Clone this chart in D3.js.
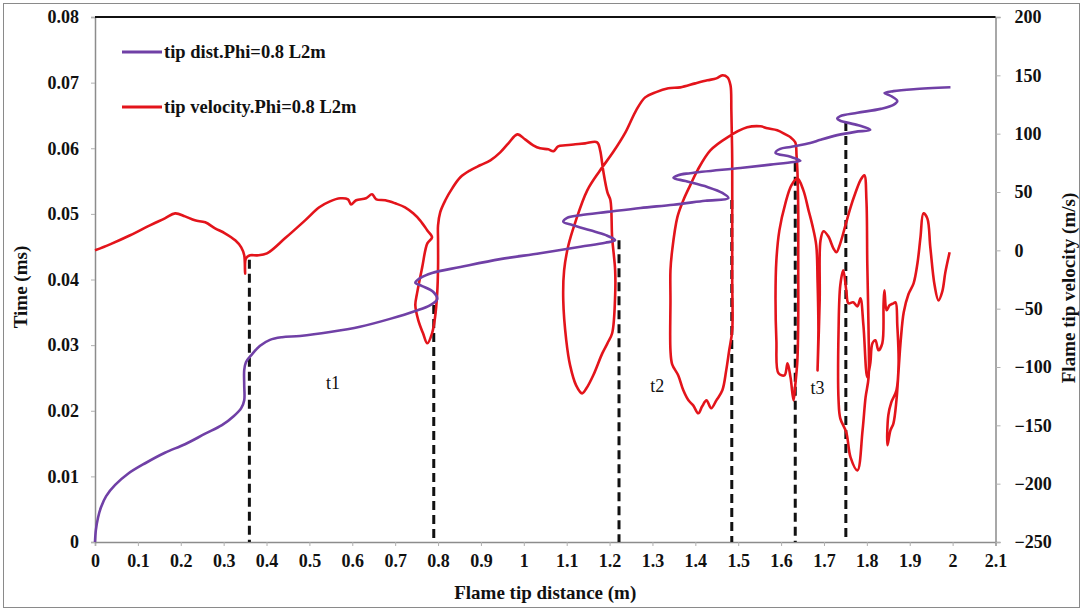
<!DOCTYPE html>
<html>
<head>
<meta charset="utf-8">
<script src="https://cdn.jsdelivr.net/npm/d3@7"></script>
<style>
  html, body { margin: 0; padding: 0; background: #fff; }
  svg { display: block; }
  text { font-family: "Liberation Serif", "Times New Roman", serif; }
</style>
</head>
<body>
<svg id="chart" width="1084" height="611"></svg>
<script>
// Flame tip position: distance (m) vs time (ms)
const tipDistX = [0,0.002,0.007,0.014,0.026,0.047,0.077,0.117,0.163,0.210,0.257,0.296,0.324,0.341,0.348,0.348,0.348,0.352,0.366,0.385,0.408,0.436,0.478,0.548,0.618,0.688,0.747,0.782,0.798,0.789,0.763,0.747,0.758,0.786,0.852,0.945,1.038,1.132,1.190,1.213,1.190,1.155,1.113,1.092,1.101,1.132,1.195,1.272,1.349,1.423,1.477,1.463,1.428,1.377,1.349,1.360,1.388,1.505,1.575,1.629,1.645,1.622,1.587,1.598,1.622,1.668,1.692,1.731,1.773,1.808,1.780,1.738,1.731,1.738,1.778,1.832,1.862,1.871,1.855,1.841,1.862,1.909,1.995];
const tipDistT = [0,0.0018,0.0037,0.0053,0.0070,0.0087,0.0104,0.0120,0.0136,0.0149,0.0165,0.0178,0.0192,0.0204,0.0216,0.0239,0.0262,0.0274,0.0286,0.0299,0.0308,0.0312,0.0314,0.0320,0.0328,0.0340,0.0352,0.0361,0.0370,0.0381,0.0390,0.0395,0.0402,0.0410,0.0419,0.0431,0.0440,0.0450,0.0456,0.0460,0.0468,0.0475,0.0483,0.0488,0.0494,0.0498,0.0503,0.0509,0.0514,0.0520,0.0524,0.0532,0.0541,0.0550,0.0555,0.0559,0.0562,0.0570,0.0575,0.0579,0.0581,0.0587,0.0593,0.0599,0.0602,0.0608,0.0613,0.0620,0.0625,0.0628,0.0635,0.0642,0.0645,0.0649,0.0654,0.0660,0.0666,0.0672,0.0680,0.0684,0.0687,0.0690,0.0693];

// Flame tip velocity (m/s) along the tip distance (m)
const tipVelX = [0,0.035,0.082,0.128,0.163,0.187,0.210,0.233,0.257,0.280,0.303,0.327,0.341,0.348,0.350,0.352,0.362,0.378,0.401,0.443,0.490,0.523,0.548,0.572,0.590,0.597,0.609,0.632,0.646,0.656,0.677,0.700,0.723,0.742,0.758,0.775,0.786,
  0.775,0.763,0.751,0.747,0.754,0.765,0.775,0.786,0.793,0.798,0.800,0.800,0.800,0.805,0.817,0.833,0.852,0.875,0.898,0.922,0.945,0.964,0.985,1.003,1.022,1.038,1.057,1.069,1.080,1.097,1.120,1.143,1.171,
  1.178,1.185,1.195,1.202,1.206,1.213,1.213,1.206,1.195,1.183,1.162,1.146,1.136,1.122,1.108,1.099,1.092,1.094,1.104,1.120,1.148,1.178,1.208,1.237,1.262,1.283,1.307,1.337,1.365,1.400,1.428,1.449,1.463,
  1.475,1.482,1.484,1.486,1.486,1.486,1.486,1.479,1.472,1.463,1.449,1.437,1.426,1.416,1.407,1.395,1.384,1.372,1.360,1.346,1.342,1.342,1.342,1.346,1.358,1.372,1.388,1.405,1.435,1.475,1.521,1.552,1.568,1.591,1.610,1.622,1.633,1.636,
  1.638,1.640,1.640,1.640,1.638,1.633,1.629,1.622,1.615,1.608,1.594,1.589,1.587,1.589,1.596,1.610,1.624,1.638,1.652,1.664,1.673,1.682,1.685,1.687,1.685,1.690,1.692,1.699,1.710,1.722,1.729,1.738,1.750,1.762,1.773,1.785,1.794,
  1.799,1.801,1.804,1.804,1.797,1.790,1.778,1.762,1.752,1.738,1.734,1.734,1.738,1.745,1.752,1.757,1.768,1.778,1.785,1.792,1.801,1.808,1.813,1.820,1.827,1.836,1.839,1.841,1.846,1.853,1.862,1.867,1.871,1.874,1.869,1.857,1.850,1.848,
  1.855,1.862,1.869,1.874,1.879,1.886,1.897,1.909,1.918,1.925,1.932,1.941,1.948,1.958,1.967,1.976,1.983,1.993];
const tipVelV = [0,5.1,12.9,21.4,27.4,31.7,29.1,25.7,24.0,18.9,14.6,8.6,2.6,-4.3,-20.0,-6.9,-4.3,-4.3,-2.6,10.3,25.7,36.9,42.0,44.6,43.7,39.4,42.9,44.6,48.0,43.7,42.9,40.3,36.9,31.7,25.7,17.1,11.1,
  6.0,-14.6,-36.9,-47.1,-60.0,-71.1,-79.7,-71.1,-57.4,-36.9,-14.6,8.6,21.4,32.6,42.9,53.1,62.6,68.6,72.9,77.1,84.0,91.7,99.4,95.1,90.0,87.4,86.6,84.9,89.1,90.0,90.9,91.7,92.6,
  85.7,68.6,49.7,42.9,11.1,-17.1,-38.6,-71.1,-79.7,-88.3,-107.1,-118.3,-122.6,-115.7,-98.6,-77.1,-42.9,-17.1,4.3,24.0,51.4,68.6,84.0,101.1,120.0,131.1,135.4,138.9,139.7,143.1,145.7,147.4,150.0,
  148.3,141.4,120.0,77.1,25.7,-25.7,-68.6,-85.7,-102.9,-120.0,-128.6,-135.4,-128.6,-133.7,-139.7,-132.9,-128.6,-120.0,-107.1,-97.7,-85.7,-42.9,-17.1,0.0,28.3,42.9,55.7,68.6,85.7,96.9,105.4,106.3,104.6,102.9,99.4,96.9,92.6,81.4,
  68.6,34.3,-8.6,-60.0,-94.3,-115.7,-128.6,-108.9,-96.9,-107.1,-105.4,-77.1,-40.3,-8.6,17.1,40.3,55.7,61.7,51.4,34.3,21.4,4.3,-25.7,-68.6,-102.9,-42.9,8.6,16.3,12.0,1.7,-1.7,6.0,21.4,36.9,48.9,60.0,64.3,
  42.9,-11.1,-68.6,-108.9,-126.0,-154.3,-188.6,-177.4,-156.0,-144.0,-128.6,-68.6,-30.0,-17.1,-34.3,-45.4,-44.6,-48.0,-41.1,-64.3,-108.9,-96.9,-79.7,-77.1,-85.7,-79.7,-45.4,-34.3,-51.4,-47.1,-45.4,-44.6,-64.3,-96.9,-120.0,-130.3,-141.4,-167.1,
  -154.3,-148.3,-128.6,-102.9,-77.1,-53.1,-37.7,-28.3,-11.1,11.1,31.7,27.4,2.6,-30.0,-42.9,-35.1,-18.9,-1.7];

// Vertical markers: tip distance and the time where each marker ends
const markerX = [0.36, 0.79, 1.222, 1.485, 1.633, 1.751];
const markerT = [0.0430, 0.0361, 0.0460, 0.0521, 0.0578, 0.0640];

// Interval labels
const intervalNames = ["t1", "t2", "t3"];
const intervalX = [0.555, 1.311, 1.685];
const intervalT = [0.0243, 0.0238, 0.0235];

// Axis ticks
const xTicks = [0,0.1,0.2,0.3,0.4,0.5,0.6,0.7,0.8,0.9,1,1.1,1.2,1.3,1.4,1.5,1.6,1.7,1.8,1.9,2,2.1];
const timeTicks = [0,0.01,0.02,0.03,0.04,0.05,0.06,0.07,0.08];
const velTicks = [-250,-200,-150,-100,-50,0,50,100,150,200];

const seriesNames = ["tip dist.Phi=0.8 L2m", "tip velocity.Phi=0.8 L2m"];
const seriesColors = ["#7040a6", "#e3141b"];

const svg = d3.select("#chart");
const L = 95, R = 995.5, T = 17, B = 542;

const x = d3.scaleLinear().domain([0, 2.1]).range([L, R]);
const yT = d3.scaleLinear().domain([0, 0.08]).range([B, T]);
const yV = d3.scaleLinear().domain([-250, 200]).range([B, T]);

// outer border
svg.append("rect").attr("x", 3.5).attr("y", 3.5).attr("width", 1076).attr("height", 604)
  .attr("fill", "none").attr("stroke", "#8a8a8a").attr("stroke-width", 1);

const tickFont = { "font-size": "18px", "font-weight": "bold", "fill": "#111" };
function styleTicks(g) {
  g.select(".domain").attr("stroke", "#8c8c8c").attr("stroke-width", 1.5);
  g.selectAll(".tick line").attr("stroke", "#b0b0b0");
  g.selectAll(".tick text").attr("font-family", "Liberation Serif, serif")
    .attr("font-size", 18).attr("font-weight", "bold").attr("fill", "#111");
}

// bottom axis
svg.append("g").attr("transform", `translate(0,${B})`)
  .call(d3.axisBottom(x).tickValues(xTicks).tickSize(4).tickPadding(8).tickFormat(d3.format("~g")))
  .call(styleTicks);

// left axis
svg.append("g").attr("transform", `translate(${L},0)`)
  .call(d3.axisLeft(yT).tickValues(timeTicks).tickSize(4).tickPadding(12).tickFormat(d => d === 0 ? "0" : d3.format(".2f")(d)))
  .call(styleTicks);

// right axis
svg.append("g").attr("transform", `translate(${R},0)`)
  .call(d3.axisRight(yV).tickValues(velTicks).tickSize(5).tickPadding(14).tickFormat(d3.format("d")))
  .call(styleTicks);

// top frame line
svg.append("line").attr("x1", L).attr("x2", R).attr("y1", T).attr("y2", T)
  .attr("stroke", "#111").attr("stroke-width", 2);

// axis titles
svg.append("text").attr("x", (L + R) / 2).attr("y", 599).attr("text-anchor", "middle")
  .attr("font-size", 19).attr("font-weight", "bold").attr("fill", "#111").text("Flame tip distance (m)");
svg.append("text").attr("transform", "translate(27,287) rotate(-90)").attr("text-anchor", "middle")
  .attr("font-size", 19).attr("font-weight", "bold").attr("fill", "#111").text("Time (ms)");
svg.append("text").attr("transform", "translate(1075,288) rotate(-90)").attr("text-anchor", "middle")
  .attr("font-size", 19).attr("font-weight", "bold").attr("fill", "#111").text("Flame tip velocity (m/s)");

// dashed markers
svg.append("g").selectAll("line").data(markerX).join("line")
  .attr("x1", d => x(d)).attr("x2", d => x(d))
  .attr("y1", (d, i) => yT(markerT[i])).attr("y2", yT(0))
  .attr("stroke", "#111").attr("stroke-width", 3).attr("stroke-dasharray", "9,5");

// velocity curve
const velPts = tipVelX.map((d, i) => [d, tipVelV[i]]);
svg.append("path").datum(velPts)
  .attr("d", d3.line().x(d => x(d[0])).y(d => yV(d[1])).curve(d3.curveCatmullRom.alpha(0.5)))
  .attr("fill", "none").attr("stroke", seriesColors[1]).attr("stroke-width", 2.6).attr("stroke-linejoin", "round");

// distance-time curve
const distPts = tipDistX.map((d, i) => [d, tipDistT[i]]);
svg.append("path").datum(distPts)
  .attr("d", d3.line().x(d => x(d[0])).y(d => yT(d[1])).curve(d3.curveCatmullRom.alpha(0.5)))
  .attr("fill", "none").attr("stroke", seriesColors[0]).attr("stroke-width", 2.6).attr("stroke-linejoin", "round");

// interval labels
svg.append("g").selectAll("text").data(intervalNames).join("text")
  .attr("x", (d, i) => x(intervalX[i])).attr("y", (d, i) => yT(intervalT[i]) + 6)
  .attr("text-anchor", "middle").attr("font-size", 18).attr("fill", "#111").text(d => d);

// legend
const legend = svg.append("g");
const legendY = [52, 107];
seriesNames.forEach((name, i) => {
  legend.append("line").attr("x1", 122).attr("x2", 162).attr("y1", legendY[i]).attr("y2", legendY[i])
    .attr("stroke", seriesColors[i]).attr("stroke-width", 3);
  legend.append("text").attr("x", 164).attr("y", legendY[i] + 6)
    .attr("font-size", 18.5).attr("font-weight", "bold").attr("fill", "#111").text(name);
});
</script>
</body>
</html>
